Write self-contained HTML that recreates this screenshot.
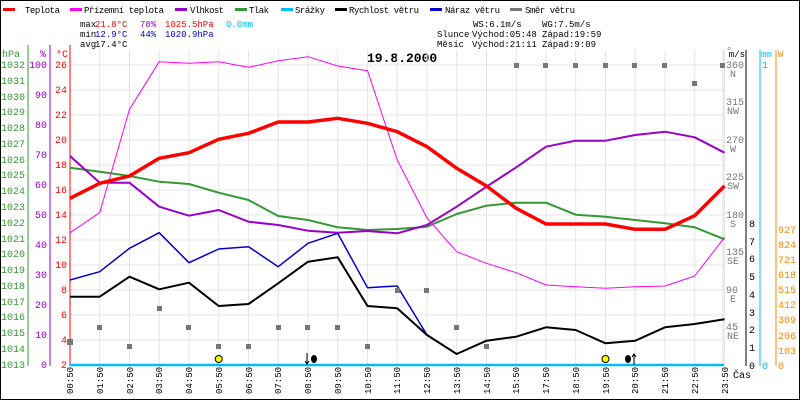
<!DOCTYPE html>
<html><head><meta charset="utf-8"><style>
body{margin:0;background:#fff}
svg{display:block;font-family:"Liberation Mono",monospace;font-size:10px}
</style></head><body>
<svg width="800" height="400" xmlns="http://www.w3.org/2000/svg">
<rect x="0.5" y="0.5" width="799" height="399" fill="#fff" stroke="#000"/>
<!-- legend -->
<g font-size="9">
<rect x="3" y="8" width="12" height="3" fill="#f00"/><text x="25" y="13" textLength="35">Teplota</text>
<rect x="70" y="8" width="12" height="3" fill="#f0f"/><text x="84" y="13" textLength="80">Přízemní teplota</text>
<rect x="175" y="8" width="12" height="3" fill="#90c"/><text x="190" y="13" textLength="34">Vlhkost</text>
<rect x="235" y="8" width="12" height="3" fill="#393"/><text x="249" y="13" textLength="20">Tlak</text>
<rect x="281" y="8" width="12" height="3" fill="#0bf"/><text x="295" y="13" textLength="30">Srážky</text>
<rect x="335" y="8" width="12" height="3" fill="#000"/><text x="349" y="13" textLength="70">Rychlost větru</text>
<rect x="430" y="8" width="12" height="3" fill="#00c"/><text x="445" y="13" textLength="55">Náraz větru</text>
<rect x="510" y="8" width="12" height="3" fill="#777"/><text x="525" y="13" textLength="50">Směr větru</text>
</g>
<g font-size="9">
<text x="80" y="27">max</text><text x="95" y="27" fill="#f00">21.8°C</text><text x="140" y="27" fill="#90c">78%</text><text x="165" y="27" fill="#f00">1025.5hPa</text><text x="226" y="27" fill="#0bf">0.0mm</text>
<text x="80" y="37">min</text><text x="95" y="37" fill="#00c">12.9°C</text><text x="140" y="37" fill="#00c">44%</text><text x="165" y="37" fill="#00c">1020.9hPa</text>
<text x="80" y="47">avg</text><text x="95" y="47">17.4°C</text>
<text x="473" y="27">WS:6.1m/s</text><text x="542" y="27">WG:7.5m/s</text>
<text x="437" y="37">Slunce</text><text x="472" y="37">Východ:05:48</text><text x="542" y="37">Západ:19:59</text>
<text x="437" y="47">Měsíc</text><text x="472" y="47">Východ:21:11</text><text x="542" y="47">Západ:9:09</text>
</g>
<text x="367" y="62" font-weight="bold" font-size="13">19.8.2000</text>
<!-- grid -->
<g stroke="#e4e4e4" stroke-width="1">
<path d="M70 65H724M70 90H724M70 115H724M70 140H724M70 165H724M70 190H724M70 215H724M70 240H724M70 265H724M70 290H724M70 315H724M70 340H724"/>
<path d="M99.7 50V365M129.5 50V365M159.2 50V365M189 50V365M218.7 50V365M248.5 50V365M278.2 50V365M308 50V365M337.7 50V365M367.5 50V365M397.2 50V365M427 50V365M456.7 50V365M486.5 50V365M516.2 50V365M546 50V365M575.7 50V365M605.5 50V365M635.2 50V365M665 50V365M694.7 50V365M724.5 50V365"/>
</g>
<!-- left axes -->
<g fill="#393" text-anchor="end">
<line x1="28" y1="45" x2="28" y2="366" stroke="#393"/>
<text x="20" y="57">hPa</text>
<text x="25" y="68">1032</text><text x="25" y="84">1031</text><text x="25" y="100">1030</text><text x="25" y="115">1029</text><text x="25" y="131">1028</text><text x="25" y="147">1027</text><text x="25" y="163">1026</text><text x="25" y="178">1025</text><text x="25" y="194">1024</text><text x="25" y="210">1023</text><text x="25" y="226">1022</text><text x="25" y="242">1021</text><text x="25" y="257">1020</text><text x="25" y="273">1019</text><text x="25" y="289">1018</text><text x="25" y="305">1017</text><text x="25" y="320">1016</text><text x="25" y="336">1015</text><text x="25" y="352">1014</text><text x="25" y="368">1013</text>
</g>
<g fill="#90c" text-anchor="end">
<line x1="50" y1="45" x2="50" y2="366" stroke="#90c"/>
<text x="46" y="57">%</text>
<text x="47" y="68">100</text><text x="47" y="98">90</text><text x="47" y="128">80</text><text x="47" y="158">70</text><text x="47" y="188">60</text><text x="47" y="218">50</text><text x="47" y="248">40</text><text x="47" y="278">30</text><text x="47" y="308">20</text><text x="47" y="338">10</text><text x="47" y="368">0</text>
</g>
<g fill="#f00" text-anchor="end">
<line x1="70" y1="45" x2="70" y2="366" stroke="#f00"/>
<text x="68" y="57">°C</text>
<text x="67" y="68">26</text><text x="67" y="93">24</text><text x="67" y="118">22</text><text x="67" y="143">20</text><text x="67" y="168">18</text><text x="67" y="193">16</text><text x="67" y="218">14</text><text x="67" y="243">12</text><text x="67" y="268">10</text><text x="67" y="293">8</text><text x="67" y="318">6</text><text x="67" y="343">4</text><text x="67" y="368">2</text>
</g>
<!-- right axes -->
<g fill="#777" font-size="10">
<line x1="723" y1="50" x2="723" y2="366" stroke="#ddd"/>
<text x="726" y="54">°</text>
<text x="726" y="68">360</text><text x="730" y="77">N</text>
<text x="726" y="105">315</text><text x="727" y="114">NW</text>
<text x="726" y="143">270</text><text x="730" y="152">W</text>
<text x="726" y="180">225</text><text x="727" y="189">SW</text>
<text x="726" y="218">180</text><text x="730" y="227">S</text>
<text x="726" y="255">135</text><text x="727" y="264">SE</text>
<text x="726" y="293">90</text><text x="730" y="302">E</text>
<text x="726" y="330">45</text><text x="727" y="339">NE</text>
</g>
<line x1="746" y1="50" x2="746" y2="366" stroke="#000"/>
<text x="745" y="57" font-size="9" text-anchor="end">m/s</text>
<g font-size="10">
<text x="749" y="227">8</text><text x="749" y="245">7</text><text x="749" y="262">6</text><text x="749" y="280">5</text><text x="749" y="298">4</text><text x="749" y="316">3</text><text x="749" y="333">2</text><text x="749" y="351">1</text><text x="749" y="369">0</text>
</g>
<line x1="760" y1="50" x2="760" y2="366" stroke="#0bf"/>
<text x="761" y="57" fill="#0bf" font-size="9">mm</text>
<text x="762" y="68" fill="#0bf">1</text><text x="762" y="369" fill="#0bf">0</text>
<line x1="776" y1="50" x2="776" y2="366" stroke="#f80"/>
<text x="778" y="57" fill="#f80" font-size="9">W</text>
<g fill="#f80">
<text x="778" y="233">927</text><text x="778" y="248">824</text><text x="778" y="263">721</text><text x="778" y="278">618</text><text x="778" y="293">515</text><text x="778" y="308">412</text><text x="778" y="323">309</text><text x="778" y="339">206</text><text x="778" y="354">103</text><text x="778" y="369">0</text>
</g>
<text x="733" y="378" font-size="10">Čas</text>
<!-- series -->
<g fill="none" stroke-linejoin="round">
<polyline stroke="#393" stroke-width="2" points="70,167.7 99.7,171.7 129.5,176 159.2,181.7 189,184 218.7,192.7 248.5,200 278.2,216 308,220 337.7,227.3 367.5,230 397.2,229 427,226.7 456.7,214 486.5,205.7 516.2,202.7 546,202.7 575.7,214.7 605.5,216.7 635.2,220 665,223.3 694.7,227.3 724.5,239.3"/>
<polyline stroke="#90c" stroke-width="2" points="70,156 99.7,182.7 129.5,182.7 159.2,206.7 189,215.7 218.7,210 248.5,221.7 278.2,225 308,230.7 337.7,232.7 367.5,231 397.2,233.3 427,225 456.7,206.7 486.5,186.7 516.2,167.3 546,146.7 575.7,140.7 605.5,140.7 635.2,135 665,131.7 694.7,137.3 724.5,152.7"/>
<polyline stroke="#f0f" stroke-width="1" points="70,232.7 99.7,212.7 129.5,109.3 159.2,61.7 189,63.3 218.7,61.7 248.5,67.3 278.2,60.7 308,56.7 337.7,66 367.5,70.7 397.2,160 427,218 456.7,251.7 486.5,263.3 516.2,272.7 546,285 575.7,286.7 605.5,288.3 635.2,286.7 665,286 694.7,276 724.5,237.3"/>
<polyline stroke="#00c" stroke-width="1.5" points="70,280 99.7,271.7 129.5,248.3 159.2,232.7 189,262.7 218.7,249 248.5,246.7 278.2,266.7 308,243.3 337.7,233.3 367.5,287.7 397.2,286 427,335"/>
<polyline stroke="#000" stroke-width="2" points="70,296.7 99.7,296.7 129.5,276.7 159.2,289.3 189,282.7 218.7,306 248.5,304 278.2,283.3 308,261.7 337.7,257.3 367.5,306 397.2,308.3 427,335 456.7,354 486.5,340.7 516.2,336.7 546,327.3 575.7,330 605.5,343.3 635.2,340.7 665,327.3 694.7,324 724.5,319.3"/>
<polyline stroke="#f00" stroke-width="3.5" points="70,198.3 99.7,183.3 129.5,176 159.2,158.3 189,152.7 218.7,139.3 248.5,133.3 278.2,122 308,122 337.7,118.3 367.5,123.3 397.2,131.7 427,146.7 456.7,168.3 486.5,186 516.2,208.3 546,224 575.7,224 605.5,224 635.2,229.3 665,229.3 694.7,215.7 724.5,186"/>
</g>
<g fill="#777">
<rect x="67" y="339" width="6" height="6"/><rect x="97" y="325" width="5" height="5"/><rect x="127" y="344" width="5" height="5"/><rect x="157" y="306" width="5" height="5"/><rect x="186" y="325" width="5" height="5"/><rect x="216" y="344" width="5" height="5"/><rect x="246" y="344" width="5" height="5"/><rect x="276" y="325" width="5" height="5"/><rect x="305" y="325" width="5" height="5"/><rect x="335" y="325" width="5" height="5"/><rect x="365" y="344" width="5" height="5"/><rect x="395" y="288" width="5" height="5"/><rect x="424" y="288" width="5" height="5"/><rect x="454" y="325" width="5" height="5"/><rect x="484" y="344" width="5" height="5"/><rect x="514" y="63" width="5" height="5"/><rect x="543" y="63" width="5" height="5"/><rect x="573" y="63" width="5" height="5"/><rect x="603" y="63" width="5" height="5"/><rect x="632" y="63" width="5" height="5"/><rect x="662" y="63" width="5" height="5"/><rect x="692" y="81" width="5" height="5"/><rect x="720" y="63" width="5" height="5"/>
</g>
<line x1="70" y1="365" x2="724" y2="365" stroke="#0bf" stroke-width="2.5"/>
<circle cx="218.7" cy="359" r="3.5" fill="#ff0" stroke="#000"/>
<circle cx="605.5" cy="359" r="3.5" fill="#ff0" stroke="#000"/>
<ellipse cx="314" cy="359" rx="3" ry="4" fill="#000"/>
<ellipse cx="628" cy="359" rx="3" ry="4" fill="#000"/>
<path d="M307 353V364M305 361L307 364L309 361M634 354V365M632 357L634 354L636 357" stroke="#000" fill="none"/>
<!-- x labels -->
<g font-size="9" fill="#000">
<text transform="translate(73,394) rotate(-90)">00:50</text>
<text transform="translate(103,394) rotate(-90)">01:50</text>
<text transform="translate(133,394) rotate(-90)">02:50</text>
<text transform="translate(162,394) rotate(-90)">03:50</text>
<text transform="translate(192,394) rotate(-90)">04:50</text>
<text transform="translate(222,394) rotate(-90)">05:50</text>
<text transform="translate(252,394) rotate(-90)">06:50</text>
<text transform="translate(281,394) rotate(-90)">07:50</text>
<text transform="translate(311,394) rotate(-90)">08:50</text>
<text transform="translate(341,394) rotate(-90)">09:50</text>
<text transform="translate(371,394) rotate(-90)">10:50</text>
<text transform="translate(400,394) rotate(-90)">11:50</text>
<text transform="translate(430,394) rotate(-90)">12:50</text>
<text transform="translate(460,394) rotate(-90)">13:50</text>
<text transform="translate(490,394) rotate(-90)">14:50</text>
<text transform="translate(519,394) rotate(-90)">15:50</text>
<text transform="translate(549,394) rotate(-90)">17:50</text>
<text transform="translate(579,394) rotate(-90)">18:50</text>
<text transform="translate(609,394) rotate(-90)">19:50</text>
<text transform="translate(638,394) rotate(-90)">20:50</text>
<text transform="translate(668,394) rotate(-90)">21:50</text>
<text transform="translate(698,394) rotate(-90)">22:50</text>
<text transform="translate(728,394) rotate(-90)">23:50</text>
</g>
</svg>
</body></html>
